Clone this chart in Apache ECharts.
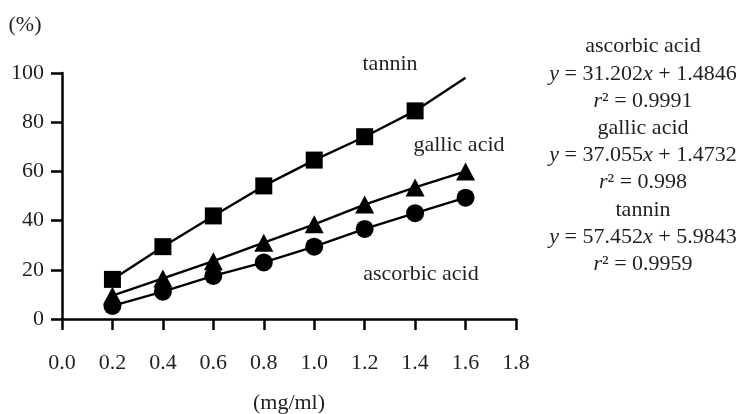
<!DOCTYPE html>
<html>
<head>
<meta charset="utf-8">
<script src="https://cdn.jsdelivr.net/npm/echarts@6/dist/echarts.min.js"></script>
<style>html,body{margin:0;padding:0;background:#fff}#c{width:748px;height:414px}</style>
</head>
<body>
<div id="c"></div>
<script>
var xValues = [0.2, 0.4, 0.6, 0.8, 1.0, 1.2, 1.4, 1.6];
var tannin = [16.1, 29.4, 41.9, 54.1, 64.6, 74.1, 84.6, 98.1];
var gallicAcid = [9.5, 16.5, 23.5, 31, 38.5, 46.5, 53.5, 60];
var ascorbicAcid = [5.3, 11.1, 17.5, 23, 29.4, 36.6, 43, 49.3];
var seriesLabels = ['tannin', 'gallic acid', 'ascorbic acid'];
var equations = [
  ['ascorbic acid', '31.202', '1.4846', '0.9991'],
  ['gallic acid', '37.055', '1.4732', '0.998'],
  ['tannin', '57.452', '5.9843', '0.9959']
];
var FONT = '"Liberation Serif", "DejaVu Serif", serif';
var FS = 22;
var chart = echarts.init(document.getElementById('c'));

function pts(arr, lastNoMarker) {
  return xValues.map(function (x, i) {
    var d = { value: [x, arr[i]] };
    if (lastNoMarker && i === xValues.length - 1) d.symbol = 'none';
    return d;
  });
}

var eqText = [];
equations.forEach(function (e) {
  eqText.push('{n|' + e[0] + '}');
  eqText.push('{i|y}{n| = ' + e[1] + '}{i|x}{n| + ' + e[2] + '}');
  eqText.push('{i|r}{n|² = ' + e[3] + '}');
});

var txtStyle = { fill: '#231f20', fontFamily: FONT, fontSize: FS };

chart.setOption({
  animation: false,
  grid: { left: 62, right: 232, top: 73, bottom: 95, containLabel: false, outerBoundsMode: 'none' },
  xAxis: {
    type: 'value', min: 0, max: 1.8, interval: 0.2,
    name: '(mg/ml)', nameLocation: 'middle', nameGap: 73,
    nameTextStyle: { color: '#231f20', fontFamily: FONT, fontSize: FS },
    axisLine: { onZero: false, lineStyle: { color: '#000', width: 2.5 } },
    axisTick: { inside: false, length: 11, lineStyle: { color: '#000', width: 2.5 } },
    axisLabel: { color: '#231f20', fontFamily: FONT, fontSize: FS, margin: 33,
      formatter: function (v) { return v.toFixed(1); } },
    splitLine: { show: false }
  },
  yAxis: {
    type: 'value', min: 0, max: 100, interval: 20,
    axisLine: { show: true, lineStyle: { color: '#000', width: 2.5 } },
    axisTick: { show: true, length: 11, lineStyle: { color: '#000', width: 2.5 } },
    axisLabel: { color: '#231f20', fontFamily: FONT, fontSize: FS, margin: 18 },
    splitLine: { show: false }
  },
  series: [
    { name: seriesLabels[0], type: 'line', data: pts(tannin, true), symbol: 'rect', symbolSize: 17,
      itemStyle: { color: '#000' }, lineStyle: { color: '#000', width: 2.4 } },
    { name: seriesLabels[1], type: 'line', data: pts(gallicAcid), symbol: 'triangle', symbolSize: [19, 18],
      itemStyle: { color: '#000' }, lineStyle: { color: '#000', width: 2.4 } },
    { name: seriesLabels[2], type: 'line', data: pts(ascorbicAcid), symbol: 'circle', symbolSize: 18,
      itemStyle: { color: '#000' }, lineStyle: { color: '#000', width: 2.4 } }
  ],
  graphic: [
    { type: 'text', x: 25, y: 25, style: Object.assign({ text: '(%)', align: 'center', verticalAlign: 'middle' }, txtStyle) },
    { type: 'text', x: 390, y: 64, style: Object.assign({ text: seriesLabels[0], align: 'center', verticalAlign: 'middle' }, txtStyle) },
    { type: 'text', x: 459, y: 145, style: Object.assign({ text: seriesLabels[1], align: 'center', verticalAlign: 'middle' }, txtStyle) },
    { type: 'text', x: 421, y: 274, style: Object.assign({ text: seriesLabels[2], align: 'center', verticalAlign: 'middle' }, txtStyle) },
    { type: 'text', x: 643, y: 33, style: {
      text: eqText.join('\n'), align: 'center', verticalAlign: 'top', fill: '#231f20',
      fontFamily: FONT, fontSize: FS, lineHeight: 27.2,
      rich: {
        n: { fontFamily: FONT, fontSize: FS, fill: '#231f20', lineHeight: 27.2 },
        i: { fontFamily: FONT, fontSize: FS, fontStyle: 'italic', fill: '#231f20', lineHeight: 27.2 }
      }
    } }
  ]
});
</script>
</body>
</html>
